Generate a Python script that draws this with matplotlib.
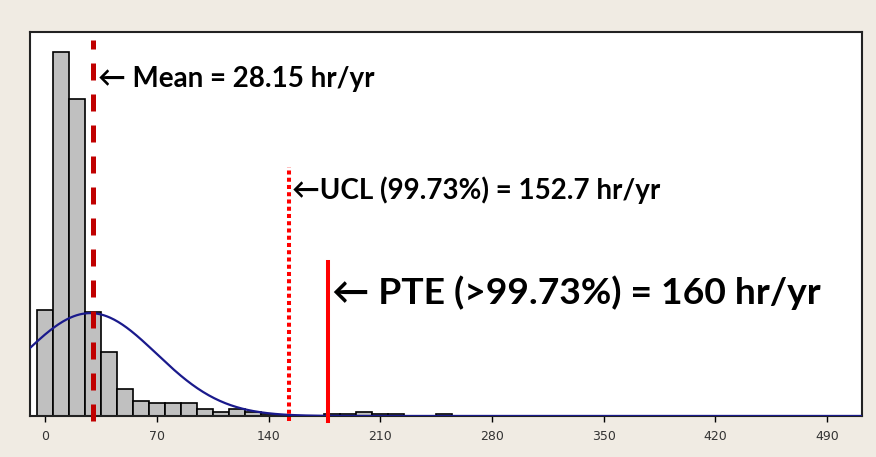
import matplotlib
matplotlib.use("Agg")
import matplotlib.pyplot as plt
import numpy as np

# histogram of outage hours (bin centres, counts)
bin_centres = [0, 10, 20, 30, 40, 50, 60, 70, 80, 90, 100, 110, 120, 130, 140,
               180, 190, 200, 210, 220, 250]
counts = [58, 200, 174, 57, 35, 15, 8, 7, 7, 7, 4, 2, 4, 2, 1,
          1, 1, 2, 1, 1, 1]
bin_width = 10

# fitted normal
fit_mean = 28.15
fit_sd = 41.5

# marker lines as drawn
mean_x = 30
ucl_x = 153
pte_x = 177

xticks = [0, 70, 140, 210, 280, 350, 420, 490]

TEXT_FONT = ["Lato", "DejaVu Sans"]


def main():
    fig = plt.figure(figsize=(8.76, 4.57), dpi=100, facecolor="#f0ebe3")
    ax = fig.add_axes([30 / 876, 41 / 457, 832 / 876, 384 / 457])
    ax.set_facecolor("white")

    ax.bar(bin_centres, counts, width=bin_width, color="#c0c0c0",
           edgecolor="black", linewidth=1.2, zorder=2)

    n_total = sum(counts)
    xs = np.linspace(-10, 512, 600)
    pdf = np.exp(-0.5 * ((xs - fit_mean) / fit_sd) ** 2) / (fit_sd * np.sqrt(2 * np.pi))
    ax.plot(xs, pdf * n_total * bin_width, color="#1a1a8c", linewidth=1.6, zorder=3)

    ax.set_xlim(-9.6, 512)
    ax.set_ylim(0, 211)

    ax.axvline(mean_x, ymin=-0.012, ymax=0.979, color="#c00000", linewidth=3.6,
               linestyle=(0, (3.4, 2.8)), clip_on=False, zorder=4)
    ax.axvline(ucl_x, ymin=-0.012, ymax=0.648, color="#ff0000", linewidth=2.9,
               linestyle=(0, (1, 0.8)), dash_capstyle="butt", clip_on=False, zorder=4)
    ax.axvline(pte_x, ymin=-0.012, ymax=0.401, color="#ff0000", linewidth=2.9,
               clip_on=False, zorder=4)

    ax.text(33, 185, "\u2190 Mean = 28.15 hr/yr", fontsize=20, fontweight="bold",
            family=TEXT_FONT, va="center", ha="left")
    ax.text(154.7, 124, "\u2190UCL (99.73%) = 152.7 hr/yr", fontsize=20,
            fontweight="bold", family=TEXT_FONT, va="center", ha="left")
    ax.text(179.7, 68, "\u2190 PTE (>99.73%) = 160 hr/yr", fontsize=26.8,
            fontweight="bold", family=TEXT_FONT, va="center", ha="left")

    ax.set_xticks(xticks)
    ax.set_xticklabels([str(t) for t in xticks])
    ax.set_yticks([])
    ax.tick_params(axis="x", direction="out", length=4, width=1,
                   labelsize=9, labelcolor="#333333", pad=6)
    for spine in ax.spines.values():
        spine.set_linewidth(1.5)
        spine.set_color("#222222")

    fig.savefig("out.png", dpi=100, facecolor=fig.get_facecolor())


if __name__ == "__main__":
    main()
